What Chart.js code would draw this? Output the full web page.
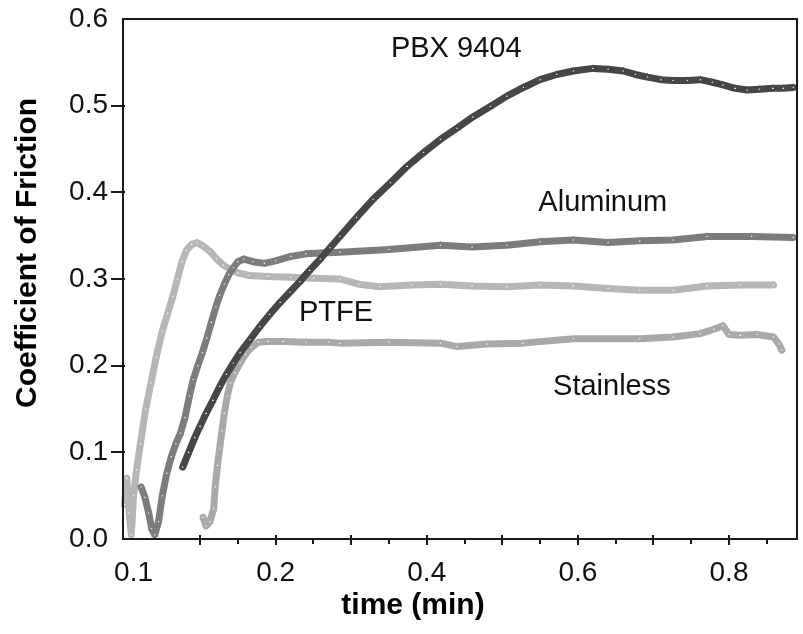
<!DOCTYPE html>
<html>
<head>
<meta charset="utf-8">
<script src="https://cdn.jsdelivr.net/npm/chart.js@4.4.0/dist/chart.umd.min.js"></script>
<style>
    html, body { margin: 0; padding: 0; background: #fff; }
    #wrap { width: 803px; height: 634px; }
</style>
</head>
<body>
<div id="wrap"><canvas id="friction-chart"></canvas></div>
<script>
// time (min) and coefficient of friction
const pbxTime = [0.077, 0.085, 0.093, 0.100, 0.108, 0.117, 0.126, 0.135, 0.144, 0.153, 0.166, 0.179, 0.192, 0.206, 0.219, 0.232, 0.245, 0.259, 0.272, 0.285, 0.307, 0.329, 0.352, 0.374, 0.396, 0.418, 0.440, 0.461, 0.484, 0.506, 0.528, 0.550, 0.572, 0.594, 0.620, 0.640, 0.660, 0.676, 0.692, 0.710, 0.726, 0.745, 0.762, 0.778, 0.792, 0.808, 0.824, 0.840, 0.858, 0.872, 0.885];
const pbxCof = [0.083, 0.100, 0.117, 0.130, 0.145, 0.160, 0.176, 0.190, 0.203, 0.215, 0.230, 0.245, 0.259, 0.273, 0.285, 0.297, 0.310, 0.323, 0.336, 0.349, 0.371, 0.392, 0.411, 0.430, 0.446, 0.461, 0.474, 0.487, 0.499, 0.511, 0.521, 0.530, 0.536, 0.540, 0.543, 0.542, 0.540, 0.536, 0.533, 0.530, 0.529, 0.529, 0.530, 0.527, 0.524, 0.520, 0.518, 0.519, 0.520, 0.520, 0.521];

const aluminumTime = [0.022, 0.027, 0.032, 0.036, 0.040, 0.045, 0.050, 0.056, 0.062, 0.068, 0.074, 0.080, 0.086, 0.091, 0.097, 0.103, 0.109, 0.115, 0.121, 0.126, 0.132, 0.138, 0.144, 0.150, 0.158, 0.170, 0.185, 0.200, 0.220, 0.240, 0.260, 0.285, 0.350, 0.418, 0.460, 0.506, 0.550, 0.594, 0.640, 0.682, 0.726, 0.771, 0.830, 0.885];
const aluminumCof = [0.060, 0.048, 0.030, 0.012, 0.005, 0.020, 0.050, 0.076, 0.095, 0.110, 0.122, 0.140, 0.165, 0.184, 0.200, 0.215, 0.232, 0.250, 0.268, 0.281, 0.294, 0.305, 0.313, 0.320, 0.323, 0.320, 0.318, 0.321, 0.326, 0.329, 0.330, 0.331, 0.334, 0.339, 0.337, 0.339, 0.343, 0.345, 0.342, 0.344, 0.345, 0.349, 0.349, 0.348];

const ptfeTime = [0.000, 0.003, 0.006, 0.009, 0.012, 0.016, 0.021, 0.028, 0.035, 0.042, 0.050, 0.057, 0.064, 0.070, 0.076, 0.082, 0.089, 0.096, 0.104, 0.113, 0.122, 0.131, 0.140, 0.150, 0.165, 0.190, 0.220, 0.250, 0.285, 0.310, 0.338, 0.380, 0.418, 0.460, 0.506, 0.550, 0.594, 0.640, 0.682, 0.726, 0.771, 0.815, 0.859];
const ptfeCof = [0.040, 0.070, 0.030, 0.005, 0.050, 0.080, 0.110, 0.150, 0.180, 0.210, 0.240, 0.260, 0.280, 0.300, 0.320, 0.333, 0.340, 0.342, 0.338, 0.332, 0.323, 0.316, 0.311, 0.307, 0.304, 0.303, 0.302, 0.301, 0.300, 0.294, 0.291, 0.293, 0.294, 0.292, 0.291, 0.293, 0.292, 0.289, 0.287, 0.287, 0.292, 0.293, 0.293];

const stainlessTime = [0.104, 0.108, 0.113, 0.118, 0.120, 0.123, 0.126, 0.129, 0.132, 0.136, 0.140, 0.146, 0.153, 0.160, 0.168, 0.177, 0.190, 0.210, 0.240, 0.270, 0.285, 0.350, 0.418, 0.440, 0.480, 0.527, 0.594, 0.682, 0.726, 0.762, 0.780, 0.792, 0.800, 0.815, 0.837, 0.859, 0.866, 0.870];
const stainlessCof = [0.025, 0.015, 0.020, 0.035, 0.060, 0.085, 0.105, 0.125, 0.145, 0.165, 0.180, 0.192, 0.203, 0.213, 0.221, 0.227, 0.228, 0.228, 0.227, 0.227, 0.226, 0.227, 0.226, 0.222, 0.225, 0.226, 0.231, 0.231, 0.233, 0.237, 0.242, 0.246, 0.236, 0.235, 0.236, 0.233, 0.225, 0.218];

const seriesNames = ['PBX 9404', 'Aluminum', 'PTFE', 'Stainless'];

// axis ticks
const yTickValues = [0, 0.1, 0.2, 0.3, 0.4, 0.5, 0.6];
const yTickLabels = ['0.0', '0.1', '0.2', '0.3', '0.4', '0.5', '0.6'];
const xTickValues = [0.012, 0.2, 0.4, 0.6, 0.8];
const xTickLabels = ['0.1', '0.2', '0.4', '0.6', '0.8'];
const xMajorTicks = [0.1, 0.2, 0.3, 0.4, 0.5, 0.6, 0.7, 0.8];
const xMinorTicks = [0.15, 0.25, 0.35, 0.45, 0.55, 0.65, 0.75, 0.85];
const yMajorTicks = [0.1, 0.2, 0.3, 0.4, 0.5];

// in-plot labels, in data units
const seriesLabels = [
    { text: 'PBX 9404', x: 0.439, y: 0.565 },
    { text: 'Aluminum', x: 0.633, y: 0.388 },
    { text: 'PTFE', x: 0.280, y: 0.261 },
    { text: 'Stainless', x: 0.645, y: 0.175 }
];

const xTitle = 'time (min)';
const yTitle = 'Coefficient of Friction';

const FONT = '"Liberation Sans", Arial, sans-serif';
const colors = ['#464646', '#7c7c7c', '#b6b6b6', '#a9a9a9'];

const toPoints = (xs, ys) => xs.map((t, i) => ({ x: t, y: ys[i] }));

const makeSeries = (name, xs, ys, color) => ({
    label: name,
    data: toPoints(xs, ys),
    showLine: true,
    borderColor: color,
    borderWidth: 7,
    borderJoinStyle: 'round',
    borderCapStyle: 'round',
    tension: 0,
    pointStyle: 'triangle',
    pointRadius: 2.6,
    pointBorderWidth: 1.5,
    pointBorderColor: color,
    pointBackgroundColor: '#ffffff',
    clip: 6
});

// plot frame plus the tick marks (major ones cross the axis)
const frameAndTicks = {
    id: 'frameAndTicks',
    afterDatasetsDraw(chart) {
        const { ctx, chartArea: a, scales: { x, y } } = chart;
        ctx.save();
        ctx.strokeStyle = '#1a1a1a';
        ctx.lineWidth = 2;
        ctx.strokeRect(a.left, a.top, a.right - a.left, a.bottom - a.top);
        ctx.beginPath();
        xMajorTicks.forEach(v => {
            const px = Math.round(x.getPixelForValue(v));
            ctx.moveTo(px, a.bottom - 4);
            ctx.lineTo(px, a.bottom + 6);
        });
        xMinorTicks.forEach(v => {
            const px = Math.round(x.getPixelForValue(v));
            ctx.moveTo(px, a.bottom);
            ctx.lineTo(px, a.bottom + 5);
        });
        yMajorTicks.forEach(v => {
            const py = Math.round(y.getPixelForValue(v));
            ctx.moveTo(a.left - 12, py);
            ctx.lineTo(a.left + 2, py);
        });
        ctx.stroke();
        ctx.restore();
    }
};

// curve names inside the plot and the two axis titles
const textPlugin = {
    id: 'textPlugin',
    afterDraw(chart) {
        const { ctx, chartArea: a, scales: { x, y } } = chart;
        ctx.save();
        ctx.fillStyle = '#111';
        ctx.font = '29px ' + FONT;
        ctx.textAlign = 'center';
        ctx.textBaseline = 'middle';
        seriesLabels.forEach(l => {
            ctx.fillText(l.text, x.getPixelForValue(l.x), y.getPixelForValue(l.y));
        });

        ctx.fillStyle = '#000';
        ctx.font = 'bold 30px ' + FONT;
        ctx.fillText(xTitle, a.left + 290, chart.height - 28);

        ctx.translate(28, a.top + 234);
        ctx.rotate(-Math.PI / 2);
        ctx.fillText(yTitle, 0, 0);
        ctx.restore();
    }
};

const ctx = document.getElementById('friction-chart').getContext('2d');
new Chart(ctx, {
    type: 'scatter',
    data: {
        datasets: [
            makeSeries(seriesNames[0], pbxTime, pbxCof, colors[0]),
            makeSeries(seriesNames[1], aluminumTime, aluminumCof, colors[1]),
            makeSeries(seriesNames[2], ptfeTime, ptfeCof, colors[2]),
            makeSeries(seriesNames[3], stainlessTime, stainlessCof, colors[3])
        ]
    },
    options: {
        responsive: true,
        maintainAspectRatio: false,
        animation: false,
        devicePixelRatio: 1,
        layout: { padding: { left: 0, top: 19, right: 6, bottom: 0 } },
        plugins: {
            legend: { display: false },
            tooltip: { enabled: false }
        },
        scales: {
            x: {
                type: 'linear',
                min: -0.002,
                max: 0.89,
                grid: { display: false, drawTicks: false },
                border: { display: false },
                afterBuildTicks: s => { s.ticks = xTickValues.map(v => ({ value: v })); },
                afterFit: s => { s.height = 95; },
                ticks: {
                    padding: 17,
                    color: '#111',
                    maxRotation: 0,
                    autoSkip: false,
                    font: { family: FONT, size: 28 },
                    callback: (v, i) => xTickLabels[i]
                },
                title: { display: false }
            },
            y: {
                min: 0,
                max: 0.6,
                grid: { display: false, drawTicks: false },
                border: { display: false },
                afterBuildTicks: s => { s.ticks = yTickValues.map(v => ({ value: v })); },
                afterFit: s => {
                    s.width = 123;
                    s.paddingTop = 0;
                    s.paddingBottom = 0;
                },
                ticks: {
                    padding: 15,
                    color: '#111',
                    autoSkip: false,
                    font: { family: FONT, size: 28 },
                    callback: (v, i) => yTickLabels[i]
                },
                title: { display: false }
            }
        }
    },
    plugins: [frameAndTicks, textPlugin]
});
</script>
</body>
</html>
